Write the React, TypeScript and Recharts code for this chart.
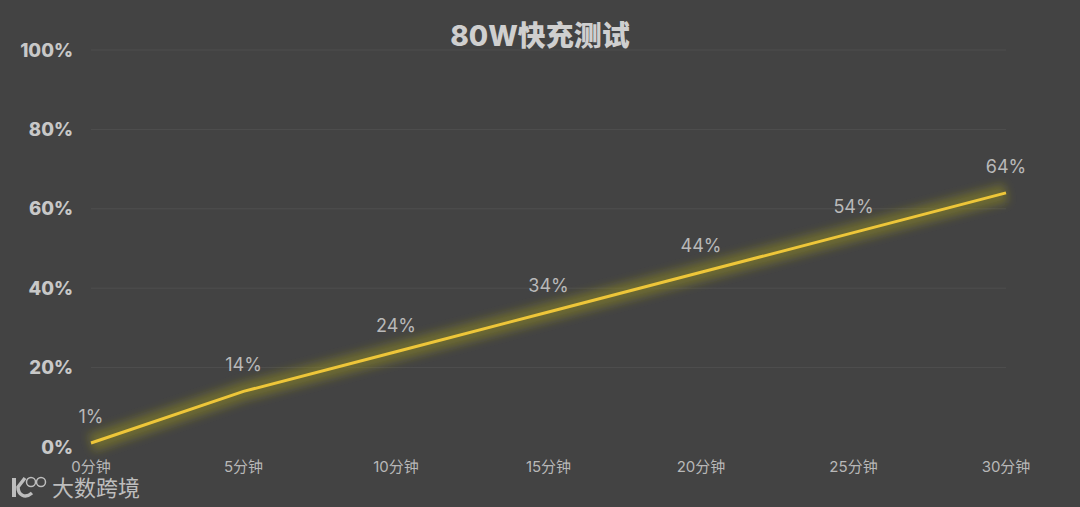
import React from "react";
import { LineChart, Line, XAxis, YAxis, CartesianGrid, LabelList } from "recharts";

const categories = ["0分钟", "5分钟", "10分钟", "15分钟", "20分钟", "25分钟", "30分钟"];
const charge = [1, 14, 24, 34, 44, 54, 64];
const yTicks = [0, 20, 40, 60, 80, 100];
const gridValues = [20, 40, 60, 80, 100];
const chartTitle = "80W快充测试";
const watermark = "大数跨境";

const data = categories.map((name, i) => ({ name, charge: charge[i], glow: charge[i] }));
const FONT = 'Inter, "Noto Sans CJK SC", sans-serif';

export default function App() {
  return (
    <div style={{ position: "absolute", left: 0, top: 0, width: 1080, height: 507, background: "#434343", overflow: "hidden", fontFamily: FONT }}>
      <LineChart width={1080} height={507} data={data} margin={{ top: 50, right: 74, bottom: 30, left: 0 }}>
        <defs>
          <filter id="glow" x="-5%" y="-30%" width="110%" height="160%">
            <feGaussianBlur stdDeviation="5" />
          </filter>
        </defs>
        <CartesianGrid
          horizontal
          vertical={false}
          stroke="#4f4f4f"
          strokeWidth={1}
          horizontalValues={gridValues}
        />
        <XAxis
          dataKey="name"
          height={30}
          axisLine={false}
          tickLine={false}
          interval={0}
          tickMargin={8}
          tick={{ fill: "#b8b8b8", fontSize: 15, fontFamily: FONT }}
        />
        <YAxis
          width={91}
          domain={[0, 100]}
          ticks={yTicks}
          axisLine={false}
          tickLine={false}
          tickMargin={12}
          tickFormatter={(v: number) => `${v}%`}
          tick={{ fill: "#c8c8c8", fontSize: 18.5, fontWeight: 800, fontFamily: FONT }}
        />
        <Line
          dataKey="glow"
          stroke="#8f8a22"
          strokeWidth={18}
          strokeOpacity={0.55}
          dot={false}
          activeDot={false}
          isAnimationActive={false}
          filter="url(#glow)"
        />
        <Line
          dataKey="charge"
          stroke="#eec639"
          strokeWidth={3}
          dot={false}
          activeDot={false}
          isAnimationActive={false}
        >
          <LabelList
            dataKey="charge"
            position="top"
            offset={20}
            formatter={(v: number) => `${v}%`}
            style={{ fill: "#b9b9b9", fontSize: 18, fontFamily: FONT }}
          />
        </Line>
      </LineChart>
      <div style={{ position: "absolute", left: 0, width: 1080, top: 18, textAlign: "center", color: "#cfcfcf", fontSize: 28, fontWeight: 800, lineHeight: "36px" }}>
        {chartTitle}
      </div>
      <svg width={46} height={30} style={{ position: "absolute", left: 8, top: 474 }} fill="none" stroke="#bdbdbd">
        <path d="M6 4 V23" strokeWidth={4} />
        <path d="M17 4 L10 13 C10 21 17 25 24 19" strokeWidth={3.5} />
        <circle cx={23} cy={8} r={4.5} strokeWidth={1.5} />
        <circle cx={33} cy={8} r={4.5} strokeWidth={1.5} />
      </svg>
      <div style={{ position: "absolute", left: 52, top: 474, color: "#bdbdbd", fontSize: 22, lineHeight: "28px" }}>
        {watermark}
      </div>
    </div>
  );
}
